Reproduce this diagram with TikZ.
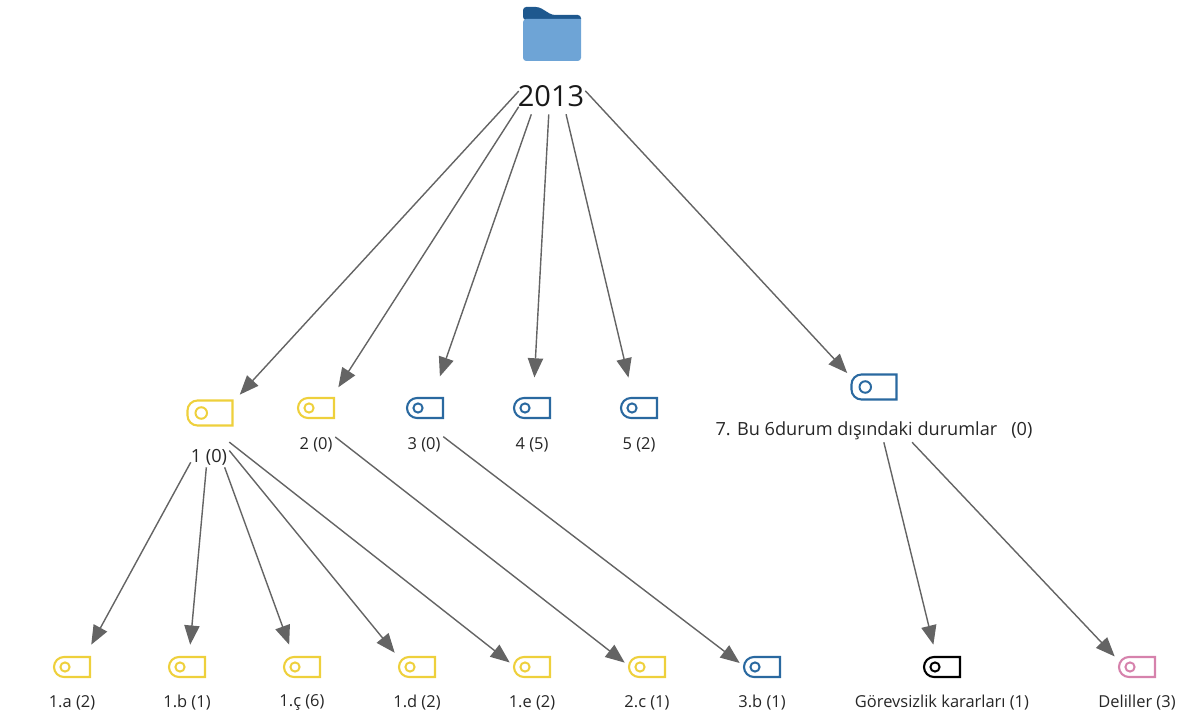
\documentclass[tikz,border=0pt]{standalone}
\usepackage{fontspec}
\setmainfont{Open Sans}
\usetikzlibrary{arrows.meta, positioning}
\definecolor{tagyellow}{RGB}{238, 208, 60}
\definecolor{tagblue}{RGB}{42, 105, 160}
\definecolor{tagpink}{RGB}{214, 130, 172}
\definecolor{folderdark}{RGB}{30, 88, 142}
\definecolor{folderlight}{RGB}{110, 164, 214}
\definecolor{linkgray}{RGB}{100, 100, 100}
\tikzset{
  link/.style={-{Triangle[length=.48cm,width=.38cm]}, linkgray, line width=1pt},
  portbox/.style={inner sep=0pt, minimum width=.95cm, minimum height=2cm},
  leafbox/.style={inner sep=0pt, minimum width=1.1cm, minimum height=1.75cm},
  rootbox/.style={inner sep=0pt, minimum width=1.65cm, minimum height=2.95cm},
  tagname/.style={font=\fontsize{11.7}{13}\selectfont, text=black!85, inner sep=0pt},
  bigname/.style={font=\fontsize{12.9}{15}\selectfont, text=black!85, inner sep=0pt},
  pics/tagicon/.style={code={
    \draw[#1, line width=1.5pt] (18,-10) -- (18,10) [rounded corners=.25cm] -- (-18,10) -- (-18,-10) [sharp corners] -- cycle;
    \draw[#1, line width=1.4pt] (-7,0) circle (.115cm);
  }},
}
\begin{document}
\begin{tikzpicture}[x=.025cm, y=-.025cm]
  \useasboundingbox (0,0) rectangle (1190,720);

  % Folder
  \fill[folderdark, rounded corners=.08cm] (523,20) -- (523,7) -- (539,7) -- (552,15) -- (581,15) -- (581,22) -- cycle;
  \fill[folderlight, rounded corners=.08cm] (523,19) [sharp corners] -- (581,19) [rounded corners=.08cm] -- (581,61) -- (523,61) -- cycle;
  \node[font=\fontsize{20.6}{24}\selectfont, text=black!90, inner sep=0pt] (year) at (551,96) {2013};

  % Invisible boxes the links stop at
  \node[rootbox] (root) at (552,55) {};
  \node[portbox] (n1) at (210,427) {};
  \node[portbox] (n2) at (316,422) {};
  \node[portbox] (n3) at (424,422) {};
  \node[portbox] (n4) at (532,422) {};
  \node[portbox] (n5) at (639,422) {};
  \node[portbox, minimum width=2.4cm] (n7) at (874,402) {};
  \node[leafbox] (a) at (72,680) {};
  \node[leafbox] (b) at (187,680) {};
  \node[leafbox] (c) at (302,680) {};
  \node[leafbox] (d) at (417,680) {};
  \node[leafbox] (e) at (532,680) {};
  \node[leafbox] (f) at (647,680) {};
  \node[leafbox] (g) at (762,680) {};
  \node[leafbox] (h) at (942,680) {};
  \node[leafbox] (i) at (1137,680) {};

  % Tags
  \pic[scale=1.25] at (210,413) {tagicon=tagyellow};
  \pic at (316,408) {tagicon=tagyellow};
  \pic at (425,408) {tagicon=tagblue};
  \pic at (532,408) {tagicon=tagblue};
  \pic at (639,408) {tagicon=tagblue};
  \pic[scale=1.25] at (874,387) {tagicon=tagblue};
  \pic at (72,667) {tagicon=tagyellow};
  \pic at (187,667) {tagicon=tagyellow};
  \pic at (302,667) {tagicon=tagyellow};
  \pic at (417,667) {tagicon=tagyellow};
  \pic at (532,667) {tagicon=tagyellow};
  \pic at (647,667) {tagicon=tagyellow};
  \pic at (762,667) {tagicon=tagblue};
  \pic at (942,667) {tagicon=black};
  \pic at (1137,667) {tagicon=tagpink};

  % Labels
  \node[bigname] (l1) at (209,457) {1 (0)};
  \node[tagname] (l2) at (316,445) {2 (0)};
  \node[tagname] (l3) at (424,445) {3 (0)};
  \node[tagname] (l4) at (532,445) {4 (5)};
  \node[tagname] (l5) at (639,445) {5 (2)};
  \node[bigname] (l7) at (874,431) {7. Bu 6durum dışındaki durumlar\ \ \ (0)};
  \node[tagname] (la) at (72,703) {1.a (2)};
  \node[tagname] (lb) at (187,703) {1.b (1)};
  \node[tagname] (lc) at (302,703) {1.ç (6)};
  \node[tagname] (ld) at (417,703) {1.d (2)};
  \node[tagname] (le) at (532,703) {1.e (2)};
  \node[tagname] (lf) at (647,703) {2.c (1)};
  \node[tagname] (lg) at (762,703) {3.b (1)};
  \node[tagname] (lh) at (942,703) {Görevsizlik kararları (1)};
  \node[tagname] (li) at (1137,703) {Deliller (3)};

  % Links
  \draw[link, shorten >=11pt] (root) -- (n1);
  \draw[link, shorten >=4pt] (root) -- (n2);
  \draw[link, shorten >=4pt] (root) -- (n3);
  \draw[link, shorten >=3pt] (root) -- (n4);
  \draw[link, shorten >=3pt] (root) -- (n5);
  \draw[link, shorten >=-11pt] (root) -- (n7);
  \draw[link] (n1) -- (a);
  \draw[link] (n1) -- (b);
  \draw[link] (n1) -- (c);
  \draw[link] (n1) -- (d);
  \draw[link] (n1) -- (e);
  \draw[link] (n2) -- (f);
  \draw[link] (n3) -- (g);
  \draw[link] (n7) -- (h);
  \draw[link] (n7) -- (i);
\end{tikzpicture}
\end{document}
